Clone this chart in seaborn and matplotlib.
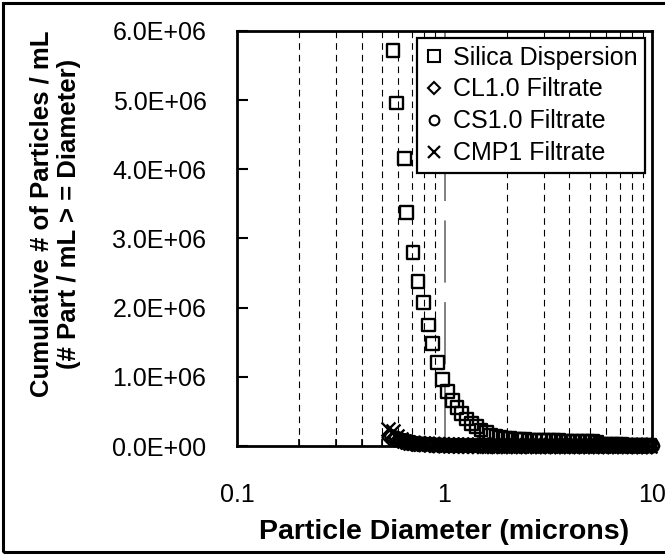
import numpy as np
import pandas as pd
import matplotlib
matplotlib.use("Agg")
import matplotlib.pyplot as plt
from matplotlib.lines import Line2D
from matplotlib.patches import Rectangle
from matplotlib.ticker import FuncFormatter, LogLocator, FixedLocator
import seaborn as sns

# Particle diameters (microns) and cumulative counts (millions of particles / mL)
silica_d = [0.565, 0.589, 0.639, 0.658, 0.705, 0.745, 0.790, 0.836, 0.873, 0.927,
            0.980, 1.03, 1.09, 1.15, 1.21, 1.28, 1.35, 1.42, 1.50, 1.59,
            1.67, 1.77, 1.86, 1.96, 2.07, 2.19, 2.31, 2.43, 2.57, 2.71,
            2.86, 3.01, 3.18, 3.36, 3.54, 3.73, 3.94, 4.16, 4.39, 4.63,
            4.88, 5.15, 5.43, 5.73, 6.05, 6.38, 6.73, 7.10, 7.49, 7.90,
            8.34, 8.80, 9.28, 9.79]
silica_n = [5.72, 4.96, 4.16, 3.38, 2.80, 2.38, 2.07, 1.75, 1.48, 1.21,
            0.96, 0.79, 0.66, 0.56, 0.47, 0.39, 0.33, 0.28, 0.23, 0.19,
            0.16, 0.14, 0.125, 0.115, 0.105, 0.100, 0.095, 0.090, 0.088, 0.085,
            0.082, 0.080, 0.078, 0.076, 0.074, 0.072, 0.070, 0.068, 0.066, 0.064,
            0.062, 0.060, 0.055, 0.030, 0.025, 0.022, 0.020, 0.018, 0.015, 0.013,
            0.011, 0.010, 0.008, 0.006]

cl10_d = [0.546, 0.575, 0.600, 0.625, 0.650, 0.670, 0.694, 0.718, 0.758, 0.804,
          0.851, 0.889, 0.944, 0.998, 1.05, 1.11, 1.17, 1.23, 1.30, 1.37,
          1.45, 1.53, 1.62, 1.70, 1.80, 1.89, 2.00, 2.11, 2.23, 2.35,
          2.47, 2.62, 2.76, 2.91, 3.06, 3.24, 3.42, 3.60, 3.80, 4.01,
          4.23, 4.47, 4.71, 4.97, 5.24, 5.53, 5.83, 6.16, 6.49, 6.85,
          7.23, 7.62, 8.04, 8.49, 8.96, 9.45, 9.97]
cl10_n = [0.120, 0.100, 0.085, 0.070, 0.060, 0.050, 0.042, 0.035, 0.030, 0.025,
          0.020, 0.016, 0.013, 0.011, 0.009, 0.007, 0.006, 0.005, 0.005, 0.004,
          0.004, 0.004, 0.003, 0.003, 0.003, 0.003, 0.002, 0.002, 0.002, 0.002,
          0.002, 0.002, 0.002, 0.001, 0.001, 0.001, 0.001, 0.001, 0.001, 0.001,
          0.001, 0.001, 0.001, 0.001, 0.001, 0.001, 0.001, 0.001, 0.001, 0.001,
          0.001, 0.001, 0.000, 0.000, 0.000, 0.000, 0.000]

cs10_d = [0.555, 0.585, 0.610, 0.636, 0.662, 0.682, 0.707, 0.730, 0.772, 0.818,
          0.866, 0.904, 0.960, 1.015, 1.07, 1.13, 1.19, 1.25, 1.33, 1.40,
          1.47, 1.55, 1.65, 1.73, 1.83, 1.93, 2.03, 2.14, 2.27, 2.39,
          2.52, 2.66, 2.81, 2.96, 3.12, 3.29, 3.48, 3.67, 3.86, 4.08,
          4.31, 4.55, 4.80, 5.06, 5.34, 5.63, 5.94, 6.27, 6.61, 6.97,
          7.36, 7.76, 8.18, 8.64, 9.12, 9.61, 10.1]
cs10_n = [0.140, 0.120, 0.100, 0.080, 0.065, 0.055, 0.045, 0.038, 0.032, 0.027,
          0.022, 0.018, 0.015, 0.012, 0.010, 0.008, 0.007, 0.006, 0.005, 0.005,
          0.004, 0.004, 0.004, 0.003, 0.003, 0.003, 0.003, 0.002, 0.002, 0.002,
          0.002, 0.002, 0.002, 0.002, 0.001, 0.001, 0.001, 0.001, 0.001, 0.001,
          0.001, 0.001, 0.001, 0.001, 0.001, 0.001, 0.001, 0.001, 0.001, 0.001,
          0.001, 0.001, 0.001, 0.000, 0.000, 0.000, 0.000]

cmp1_d = [0.536, 0.565, 0.589, 0.614, 0.639, 0.658, 0.682, 0.705, 0.745, 0.790,
          0.836, 0.873, 0.927, 0.980, 1.03, 1.09, 1.15, 1.21, 1.28, 1.35,
          1.42, 1.50, 1.59, 1.67, 1.77, 1.86, 1.96, 2.07, 2.19, 2.31,
          2.43, 2.57, 2.71, 2.86, 3.01, 3.18, 3.36, 3.54, 3.73, 3.94,
          4.16, 4.39, 4.63, 4.88, 5.15, 5.43, 5.73, 6.05, 6.38, 6.73,
          7.10, 7.49, 7.90, 8.34, 8.80, 9.28, 9.79]
cmp1_n = [0.250, 0.210, 0.150, 0.100, 0.070, 0.055, 0.045, 0.040, 0.035, 0.030,
          0.027, 0.024, 0.021, 0.019, 0.017, 0.015, 0.013, 0.012, 0.011, 0.010,
          0.009, 0.008, 0.007, 0.007, 0.006, 0.006, 0.005, 0.005, 0.004, 0.004,
          0.004, 0.003, 0.003, 0.003, 0.003, 0.002, 0.002, 0.002, 0.002, 0.002,
          0.002, 0.002, 0.001, 0.001, 0.001, 0.001, 0.001, 0.001, 0.001, 0.001,
          0.001, 0.001, 0.001, 0.001, 0.000, 0.000, 0.000]

series_names = ["Silica Dispersion", "CL1.0 Filtrate", "CS1.0 Filtrate", "CMP1 Filtrate"]
x_ticks = [0.1, 1, 10]
x_tick_labels = ["0.1", "1", "10"]
y_ticks = [0, 1e6, 2e6, 3e6, 4e6, 5e6, 6e6]

frames = []
for name, d, n in [(series_names[0], silica_d, silica_n),
                   (series_names[1], cl10_d, cl10_n),
                   (series_names[2], cs10_d, cs10_n),
                   (series_names[3], cmp1_d, cmp1_n)]:
    frames.append(pd.DataFrame({"diameter": d,
                                "count": np.array(n) * 1e6,
                                "series": name}))
df = pd.concat(frames, ignore_index=True)

sns.set_theme(style="white")
plt.rcParams["font.family"] = ["Liberation Sans", "DejaVu Sans"]
plt.rcParams.update({"text.color": "black", "axes.labelcolor": "black",
                     "xtick.color": "black", "ytick.color": "black"})

fig = plt.figure(figsize=(6.65, 5.54), dpi=100)
ax = fig.add_axes([237 / 665, 1 - 446 / 554, 415 / 665, 415 / 554])

ax.set_xscale("log")
ax.set_xlim(0.1, 10)
ax.set_ylim(0, 6e6)

# vertical grid: dashed at minor decades, grey long dash at 1
for dec in [0.1, 1]:
    for m in range(2, 10):
        ax.axvline(dec * m, color="black", lw=0.8, ls=(0, (6, 4.5)), zorder=1)
ax.axvline(1, color="#808080", lw=1.4, ls=(0, (32, 10)), zorder=1)

marker_style = {
    series_names[0]: dict(marker="s", s=85, facecolors="none", edgecolor="black", linewidth=1.7),
    series_names[1]: dict(marker="D", s=60, facecolors="none", edgecolor="black", linewidth=1.6),
    series_names[2]: dict(marker="o", s=80, facecolors="none", edgecolor="black", linewidth=1.6),
    series_names[3]: dict(marker="x", s=100, color="black", linewidth=1.7),
}
for name in series_names[::-1]:
    sub = df[df["series"] == name]
    sns.scatterplot(data=sub, x="diameter", y="count", ax=ax, legend=False,
                    zorder=3, clip_on=False, **marker_style[name])

ax.xaxis.set_major_locator(FixedLocator(x_ticks))
ax.xaxis.set_major_formatter(FuncFormatter(lambda v, p: x_tick_labels[x_ticks.index(v)] if v in x_ticks else ""))
ax.xaxis.set_minor_locator(LogLocator(base=10, subs=np.arange(2, 10)))
ax.xaxis.set_minor_formatter(FuncFormatter(lambda v, p: ""))
ax.set_yticks(y_ticks)
ax.yaxis.set_major_formatter(FuncFormatter(lambda v, p: f"{v:.1E}"))

ax.tick_params(axis="x", which="major", direction="out", length=8, width=1.5,
               labelsize=18, pad=19, colors="black")
ax.tick_params(axis="x", which="minor", direction="in", length=5, width=1.2,
               bottom=True, top=False)
ax.tick_params(axis="y", which="major", direction="in", length=8, width=1.5,
               labelsize=18, pad=22, colors="black", left=True)

for sp in ax.spines.values():
    sp.set_color("black")
    sp.set_linewidth(2)
    sp.set_visible(True)

ax.set_xlabel("Particle Diameter (microns)", fontsize=20.5, fontweight="bold", labelpad=8)
ax.set_ylabel("Cumulative # of Particles / mL\n(# Part / mL > = Diameter)",
              fontsize=18.5, fontweight="bold", linespacing=1.2)
ax.yaxis.set_label_coords(-0.375, 0.56)

handles = [
    Line2D([], [], ls="none", marker="s", ms=8, mfc="none", mec="black", mew=1.5),
    Line2D([], [], ls="none", marker="D", ms=6.5, mfc="none", mec="black", mew=1.5),
    Line2D([], [], ls="none", marker="o", ms=7, mfc="none", mec="black", mew=1.5),
    Line2D([], [], ls="none", marker="x", ms=9, color="black", mew=1.6),
]
leg = ax.legend(handles, series_names, loc="upper right", fontsize=18,
                frameon=True, fancybox=False, framealpha=1, edgecolor="black",
                bbox_to_anchor=(1 - 7 / 415, 1 - 7 / 415), borderaxespad=0,
                handlelength=0.8, handletextpad=0.35,
                labelspacing=0.32, borderpad=0.3)
leg.get_frame().set_linewidth(1.6)
leg.set_zorder(5)

# outer border around the figure
fig.patches.append(Rectangle((0.004, 0.004), 1.2, 0.991, transform=fig.transFigure,
                             fill=False, edgecolor="black", linewidth=2.2, zorder=10))

fig.savefig("out.png", dpi=100)
